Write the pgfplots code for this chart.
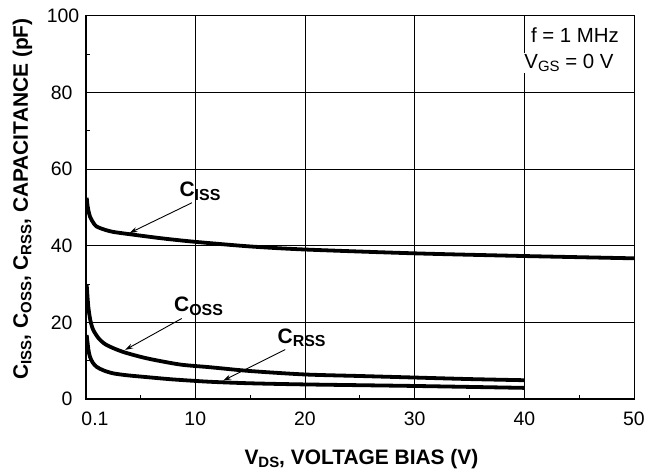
\documentclass[border=0pt]{standalone}
\usepackage{fontspec}
\setmainfont{Liberation Sans}
\usepackage{pgfplots}
\pgfplotsset{compat=1.18}
\usetikzlibrary{arrows.meta}
% subscript: lowered, smaller
\newcommand\sub[2][15]{\raisebox{-3.5bp}{\fontsize{#1}{#1}\selectfont #2}}
\begin{document}
\begin{tikzpicture}
\begin{axis}[
    name=ax, scale only axis, width=548.4bp, height=383.3bp,
    xmin=0, xmax=50, ymin=0, ymax=100,
    xtick={0,10,20,30,40,50},
    xticklabels={\hspace*{18.8bp}0.1,10,20,30,40,50},
    ytick={0,20,40,60,80,100},
    yticklabels={0,20,40,60,80,100\hspace*{-6.8bp}},
    minor xtick={5,15,25,35,45}, minor ytick={10,30,50,70,90},
    tick align=inside, xtick pos=bottom, ytick pos=left,
    major tick length=0pt, minor tick length=4bp,
    minor tick style={black, line width=0.8bp},
    grid=major, major grid style={black, line width=0.8bp},
    axis line style={black, line width=1bp},
    every tick label/.append style={font=\fontsize{19.5}{19.5}\selectfont, inner sep=0pt},
    xticklabel style={anchor=base, yshift=-26.5bp},
    yticklabel style={anchor=east, xshift=-13bp},
    label style={font=\fontsize{21}{21}\selectfont\bfseries},
    xlabel={V\sub{DS}, VOLTAGE BIAS (V)},
    ylabel={C\sub{ISS}, C\sub{OSS}, C\sub{RSS}, CAPACITANCE (pF)},
    xlabel style={at={(axis description cs:0.503,-0.1696)}, anchor=base},
    ylabel style={at={(axis description cs:-0.115,0.522)}, anchor=center},
]
% Ciss
\addplot[black, line width=3.8bp, smooth, tension=0.45] coordinates {
(0.1,52.5) (0.2,50) (0.4,47.6) (0.7,46) (1,45) (1.7,44.2) (2.5,43.6) (4,43)
(7,41.9) (10,41) (15,39.8) (20,39) (30,38) (40,37.3) (50,36.7)
};
% Coss
\addplot[black, line width=3.8bp, smooth, tension=0.45] coordinates {
(0.1,29.8) (0.25,24) (0.45,20.3) (0.7,18) (1.2,15.8) (1.9,14.1) (3.4,12.3)
(5.6,10.6) (8.6,9.0) (11.3,8.3) (15,7.3) (20,6.4) (25,6.0) (30,5.6) (35,5.2) (40,4.9)
};
% Crss
\addplot[black, line width=3.8bp, smooth, tension=0.45] coordinates {
(0.1,16.7) (0.25,13) (0.4,11) (0.65,9.5) (1,8.4) (1.6,7.5) (2.5,6.7) (3.75,6.2)
(5.6,5.7) (8,5.1) (11.3,4.5) (15,4.1) (20,3.8) (30,3.4) (40,2.9)
};
% thick left and bottom axis lines
\draw[black, line width=2.8bp] (rel axis cs:0,1) -- (rel axis cs:0,0) -- (rel axis cs:1,0);
% curve labels
\node[anchor=base, font=\fontsize{21}{21}\selectfont\bfseries] at (axis cs:10.43,52.8) {C\sub[16]{ISS}};
\node[anchor=base, font=\fontsize{21}{21}\selectfont\bfseries] at (axis cs:10.3,22.8) {C\sub[16]{OSS}};
\node[anchor=base, font=\fontsize{21}{21}\selectfont\bfseries] at (axis cs:19.7,14.5) {C\sub[16]{RSS}};
\draw[-{Stealth[length=8bp,width=5bp]}, line width=0.9bp] (axis cs:9.7,51.2) -- (axis cs:4.0,43.3);
\draw[-{Stealth[length=8bp,width=5bp]}, line width=0.9bp] (axis cs:8.76,21.0) -- (axis cs:3.6,12.8);
\draw[-{Stealth[length=8bp,width=5bp]}, line width=0.9bp] (axis cs:18.2,12.9) -- (axis cs:12.55,4.8);
% conditions
\node[anchor=base west, fill=white, inner sep=1bp, font=\fontsize{20.5}{20.5}\selectfont] at (axis cs:40.5,93.06) {f = 1 MHz};
\node[anchor=base west, fill=white, inner sep=1bp, font=\fontsize{20.5}{20.5}\selectfont] at (axis cs:39.9,86.3) {V\sub[15]{GS} = 0 V};
\end{axis}
\path ([xshift=-85.6bp,yshift=-75bp]ax.south west) rectangle ([xshift=27bp,yshift=15.7bp]ax.north east);
\end{tikzpicture}
\end{document}
